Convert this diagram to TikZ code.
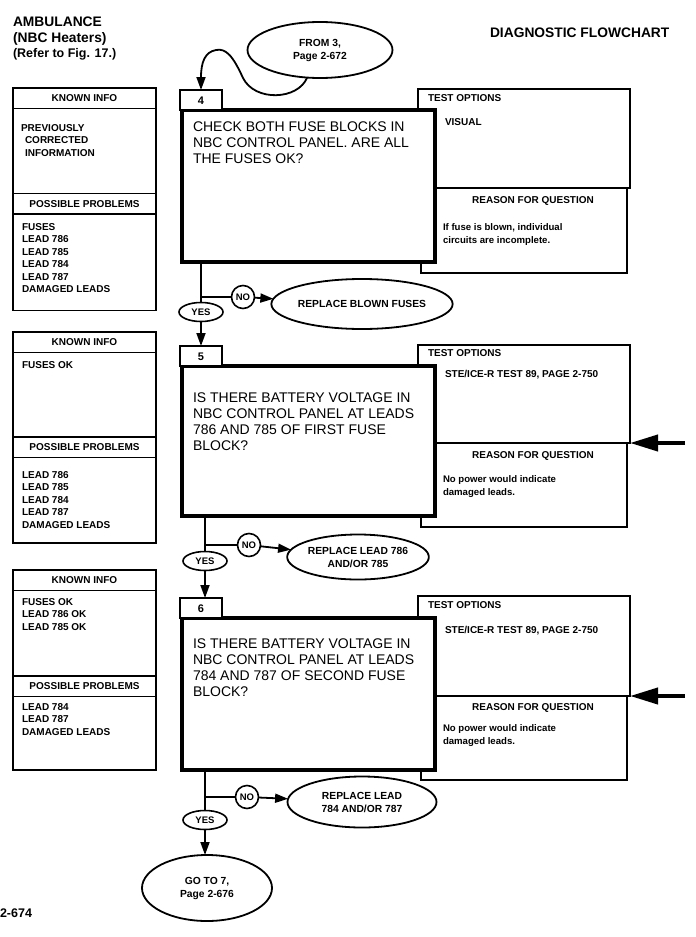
\documentclass[tikz,border=0pt]{standalone}
\usepackage{fontspec}
\setmainfont{Liberation Sans}
\usepackage{tikz}
\usetikzlibrary{shapes,arrows.meta,positioning,calc}

\begin{document}
\begin{tikzpicture}[x=1pt, y=-1pt,
  every node/.style={inner sep=0pt, outer sep=0pt},
  box/.style={draw, line width=1.6pt, fill=white},
  sidehead/.style={box, minimum width=143pt, minimum height=20.5pt, text height=7.2pt, text depth=0pt, font=\fontsize{10}{12}\selectfont\bfseries},
  sidebody/.style={box, minimum width=143pt, minimum height=#1},
  numbox/.style={box, minimum width=42pt, minimum height=20pt, text height=8pt, text depth=0pt, font=\fontsize{11}{13}\selectfont\bfseries},
  qbox/.style={draw, line width=4pt, fill=white, minimum width=253pt, minimum height=#1},
  testbox/.style={box, minimum width=212pt, minimum height=#1},
  rsnbox/.style={box, minimum width=206pt, minimum height=#1},
  titletxt/.style={anchor=west, text height=9.9pt, text depth=0pt, font=\fontsize{13.8}{16}\selectfont\bfseries},
  captxt/.style={anchor=west, text height=7.2pt, text depth=0pt, font=\fontsize{10}{12}\selectfont\bfseries},
  listtxt/.style={anchor=north west, align=left, font=\fontsize{10}{12.5}\selectfont\bfseries},
  qtxt/.style={anchor=north west, align=left, font=\fontsize{14}{16}\selectfont},
  rtxt/.style={anchor=north west, align=left, font=\fontsize{9.6}{13}\selectfont\bfseries},
  yesbub/.style={draw, ellipse, line width=1.6pt, minimum width=44pt, minimum height=19pt, text height=7pt, text depth=0pt, font=\fontsize{9.5}{11}\selectfont\bfseries},
  nobub/.style={draw, circle, line width=1.6pt, minimum size=23pt, text height=7pt, text depth=0pt, font=\fontsize{9.5}{11}\selectfont\bfseries},
  endbub/.style={draw, ellipse, line width=1.8pt, fill=white, align=center, font=\fontsize{10.3}{13}\selectfont\bfseries},
  flow/.style={line width=1.8pt},
  flowarr/.style={flow, -{Triangle[length=13pt,width=9pt]}},
  inarr/.style={line width=4pt, -{Triangle[length=28pt,width=16pt]}}
]
  \useasboundingbox (0,0) rectangle (696,937);
  % Heading
  \node[titletxt] (amb) at (13,22) {AMBULANCE};
  \node[titletxt] (nbc) at (13,38) {(NBC Heaters)};
  \node[titletxt, font=\fontsize{12.5}{15}\selectfont\bfseries] (refer) at (13,53) {(Refer to Fig. 17.)};
  \node[titletxt] (diag) at (490,33) {DIAGNOSTIC FLOWCHART};
  \node[titletxt, font=\fontsize{12.5}{15}\selectfont\bfseries] (page) at (0,913) {2-674};
  \node[endbub, minimum width=145pt, minimum height=56pt] (from3) at (320,50) {FROM 3,\\Page 2-672};

  % Step 4
  \node[sidehead, anchor=north west] (kh4) at (13,88) {KNOWN INFO};
  \node[sidebody=85pt, below=0pt of kh4] (kb4) {};
  \node[sidehead, below=0pt of kb4] (ph4) {POSSIBLE PROBLEMS};
  \node[sidebody=96.5pt, below=0pt of ph4] (pb4) {};
  \node[listtxt] (kt4) at (21,124.4) {PREVIOUSLY\\\hspace*{4pt}CORRECTED\\\hspace*{4pt}INFORMATION};
  \node[listtxt] (pt4) at (22,223.4) {FUSES\\LEAD 786\\LEAD 785\\LEAD 784\\LEAD 787\\DAMAGED LEADS};
  \node[testbox=99pt, anchor=north west] (t4) at (418,89) {};
  \node[rsnbox=85pt, below=0pt of t4] (r4) {};
  \node[qbox=152pt, anchor=north west] (q4) at (182,110) {};
  \node[numbox, anchor=south west] (n4) at ($(q4.north west)+(-2,0)$) {4};
  \node[qtxt] (qt4) at (193,122) {CHECK BOTH FUSE BLOCKS IN\\NBC CONTROL PANEL. ARE ALL\\THE FUSES OK?};
  \node[captxt] (to4) at (428,98) {TEST OPTIONS};
  \node[captxt] (tv4) at (445,122) {VISUAL};
  \node[captxt, anchor=center] (rh4) at (533,200) {REASON FOR QUESTION};
  \node[rtxt] (rt4) at (443,223.5) {If fuse is blown, individual\\circuits are incomplete.};
  \node[yesbub] (yes4) at (201,312) {YES};
  \node[nobub] (no4) at (243,297) {NO};
  \node[endbub, minimum width=159pt, minimum height=50pt] (rep4) at (362,304) {REPLACE BLOWN FUSES};
  \draw[flowarr] (from3.245) .. controls (298,100) and (255,102) .. (243,78)
    .. controls (233,56) and (226,48) .. (216,50)
    .. controls (205,52) and (201,62) .. (n4.north);
  \draw[flow] (q4.south -| yes4) -- (yes4);
  \draw[flow] (yes4 |- no4) -- (no4);
  \draw[flowarr] (no4) -- (rep4);

  % Step 5
  \node[sidehead, anchor=north west] (kh5) at (13,332) {KNOWN INFO};
  \node[sidebody=84.5pt, below=0pt of kh5] (kb5) {};
  \node[sidehead, below=0pt of kb5] (ph5) {POSSIBLE PROBLEMS};
  \node[sidebody=85.5pt, below=0pt of ph5] (pb5) {};
  \node[listtxt] (kt5) at (22,361.4) {FUSES OK};
  \node[listtxt] (pt5) at (22,471.4) {LEAD 786\\LEAD 785\\LEAD 784\\LEAD 787\\DAMAGED LEADS};
  \node[testbox=98pt, anchor=north west] (t5) at (418,345) {};
  \node[rsnbox=84pt, below=0pt of t5] (r5) {};
  \node[qbox=150pt, anchor=north west] (q5) at (182,366) {};
  \node[numbox, anchor=south west] (n5) at ($(q5.north west)+(-2,0)$) {5};
  \node[qtxt] (qt5) at (193,393) {IS THERE BATTERY VOLTAGE IN\\NBC CONTROL PANEL AT LEADS\\786 AND 785 OF FIRST FUSE\\BLOCK?};
  \node[captxt] (to5) at (428,353) {TEST OPTIONS};
  \node[captxt] (tv5) at (445,374) {STE/ICE-R TEST 89, PAGE 2-750};
  \node[captxt, anchor=center] (rh5) at (533,455) {REASON FOR QUESTION};
  \node[rtxt] (rt5) at (443,475.5) {No power would indicate\\damaged leads.};
  \node[yesbub] (yes5) at (205,561) {YES};
  \node[nobub] (no5) at (249,545) {NO};
  \node[endbub, minimum width=139pt, minimum height=45pt] (rep5) at (358,557) {REPLACE LEAD 786\\AND/OR 785};
  \coordinate (in5) at (685,443);
  \draw[inarr] (in5) -- (t5.south east);
  \draw[flowarr] (yes4) -- (yes4 |- n5.north);
  \draw[flow] (q5.south -| yes5) -- (yes5);
  \draw[flow] (yes5 |- no5) -- (no5);
  \draw[flowarr] (no5) -- (rep5);

  % Step 6
  \node[sidehead, anchor=north west] (kh6) at (13,570) {KNOWN INFO};
  \node[sidebody=85.5pt, below=0pt of kh6] (kb6) {};
  \node[sidehead, below=0pt of kb6] (ph6) {POSSIBLE PROBLEMS};
  \node[sidebody=73.5pt, below=0pt of ph6] (pb6) {};
  \node[listtxt] (kt6) at (22,598.4) {FUSES OK\\LEAD 786 OK\\LEAD 785 OK};
  \node[listtxt] (pt6) at (22,703.4) {LEAD 784\\LEAD 787\\DAMAGED LEADS};
  \node[testbox=100pt, anchor=north west] (t6) at (418,596) {};
  \node[rsnbox=84pt, below=0pt of t6] (r6) {};
  \node[qbox=152pt, anchor=north west] (q6) at (182,618) {};
  \node[numbox, anchor=south west] (n6) at ($(q6.north west)+(-2,0)$) {6};
  \node[qtxt] (qt6) at (193,639) {IS THERE BATTERY VOLTAGE IN\\NBC CONTROL PANEL AT LEADS\\784 AND 787 OF SECOND FUSE\\BLOCK?};
  \node[captxt] (to6) at (428,605) {TEST OPTIONS};
  \node[captxt] (tv6) at (445,630) {STE/ICE-R TEST 89, PAGE 2-750};
  \node[captxt, anchor=center] (rh6) at (533,707) {REASON FOR QUESTION};
  \node[rtxt] (rt6) at (443,724.5) {No power would indicate\\damaged leads.};
  \node[yesbub] (yes6) at (205,820) {YES};
  \node[nobub] (no6) at (247,797) {NO};
  \node[endbub, minimum width=149pt, minimum height=51pt] (rep6) at (362,802) {REPLACE LEAD\\784 AND/OR 787};
  \node[endbub, minimum width=130pt, minimum height=66pt] (go7) at (207,888) {GO TO 7,\\Page 2-676};
  \coordinate (in6) at (685,696);
  \draw[inarr] (in6) -- (t6.south east);
  \draw[flowarr] (yes5) -- (yes5 |- n6.north);
  \draw[flow] (q6.south -| yes6) -- (yes6);
  \draw[flow] (yes6 |- no6) -- (no6);
  \draw[flowarr] (no6) -- (rep6);
  \draw[flowarr] (yes6) -- (yes6 |- go7.north);
\end{tikzpicture}
\end{document}
